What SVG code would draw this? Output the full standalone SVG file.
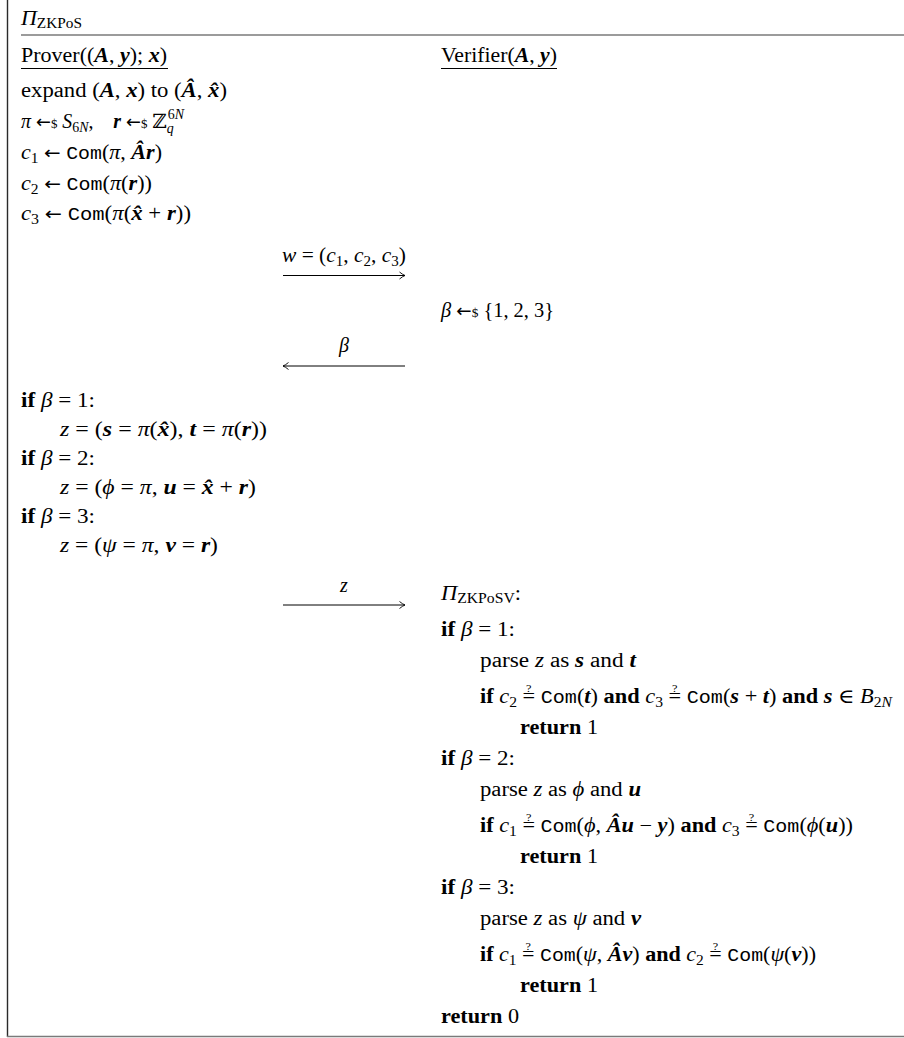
<svg xmlns="http://www.w3.org/2000/svg" width="904" height="1038" viewBox="0 0 904 1038">
<style>
text{font-family:"Liberation Serif","DejaVu Serif",serif;font-size:20px;fill:#000}
.i{font-style:italic}
.b{font-weight:bold}
.bi{font-weight:bold;font-style:italic}
.m{font-family:"Liberation Mono","DejaVu Sans Mono",monospace;font-size:18px}
.ar{font-family:"DejaVu Sans",sans-serif;font-size:18px}
.s{font-size:14px}
.d{font-size:13px}
.q{font-size:11px}
.mid{text-anchor:middle}
.frame{stroke:#2a2a2a;stroke-width:1.4;fill:none}
.rule{stroke:#7a7a7a;stroke-width:1.6;fill:none}
.ul{stroke:#000;stroke-width:1;fill:none}
.msg{stroke:#000;stroke-width:1;fill:none}
.head{stroke:#000;stroke-width:0.9;fill:none}
</style>
<defs>
<marker id="ah" markerUnits="userSpaceOnUse" markerWidth="12" markerHeight="10" refX="8" refY="5" orient="auto-start-reverse" viewBox="0 0 12 10">
<path class="head" d="M2.5 1.5 Q5.5 4 8 5 Q5.5 6 2.5 8.5"/>
</marker>
</defs>
<g id="frame">
<line class="frame" x1="7.5" y1="0" x2="7.5" y2="1037"/>
<line class="rule" x1="21" y1="35" x2="904" y2="35"/>
<line class="rule" x1="7" y1="1036.5" x2="904" y2="1036.5"/>
</g>
<g id="title">
<text x="21" y="25" textLength="61" lengthAdjust="spacingAndGlyphs"><tspan class="i">Π</tspan><tspan class="s" dy="3">ZKPoS</tspan></text>
</g>
<g id="prover">
<text x="21" y="62" textLength="146" lengthAdjust="spacingAndGlyphs">Prover((<tspan class="bi">A</tspan>, <tspan class="bi">y</tspan>); <tspan class="bi">x</tspan>)</text>
<line class="ul" x1="21" y1="68.5" x2="168" y2="68.5"/>
<text x="21" y="97" textLength="206" lengthAdjust="spacingAndGlyphs">expand (<tspan class="bi">A</tspan>, <tspan class="bi">x</tspan>) to (<tspan class="bi">Â</tspan>, <tspan class="bi">x̂</tspan>)</text>
<text x="21" y="128" textLength="163" lengthAdjust="spacingAndGlyphs"><tspan class="i">π</tspan> <tspan class="ar">←</tspan><tspan class="d">$</tspan> <tspan class="i">S</tspan><tspan class="s" dy="4">6</tspan><tspan class="s i">N</tspan><tspan dy="-4">,&#160;&#160;&#160;&#160;</tspan><tspan class="bi">r</tspan> <tspan class="ar">←</tspan><tspan class="d">$</tspan> ℤ<tspan class="s i" dy="5">q</tspan><tspan class="s" dx="-6" dy="-14">6</tspan><tspan class="s i">N</tspan></text>
<text x="21" y="159" textLength="141" lengthAdjust="spacingAndGlyphs"><tspan class="i">c</tspan><tspan class="s" dy="4">1</tspan><tspan dy="-4"> </tspan><tspan class="ar">←</tspan> <tspan class="m">Com</tspan>(<tspan class="i">π</tspan>, <tspan class="bi">Âr</tspan>)</text>
<text x="21" y="190" textLength="131" lengthAdjust="spacingAndGlyphs"><tspan class="i">c</tspan><tspan class="s" dy="4">2</tspan><tspan dy="-4"> </tspan><tspan class="ar">←</tspan> <tspan class="m">Com</tspan>(<tspan class="i">π</tspan>(<tspan class="bi">r</tspan>))</text>
<text x="21" y="220" textLength="170" lengthAdjust="spacingAndGlyphs"><tspan class="i">c</tspan><tspan class="s" dy="4">3</tspan><tspan dy="-4"> </tspan><tspan class="ar">←</tspan> <tspan class="m">Com</tspan>(<tspan class="i">π</tspan>(<tspan class="bi">x̂</tspan> + <tspan class="bi">r</tspan>))</text>
<text x="21" y="407" textLength="74" lengthAdjust="spacingAndGlyphs"><tspan class="b">if</tspan> <tspan class="i">β</tspan> = 1:</text>
<text x="60" y="436" textLength="207" lengthAdjust="spacingAndGlyphs"><tspan class="i">z</tspan> = (<tspan class="bi">s</tspan> = <tspan class="i">π</tspan>(<tspan class="bi">x̂</tspan>), <tspan class="bi">t</tspan> = <tspan class="i">π</tspan>(<tspan class="bi">r</tspan>))</text>
<text x="21" y="465" textLength="74" lengthAdjust="spacingAndGlyphs"><tspan class="b">if</tspan> <tspan class="i">β</tspan> = 2:</text>
<text x="60" y="494" textLength="196" lengthAdjust="spacingAndGlyphs"><tspan class="i">z</tspan> = (<tspan class="i">ϕ</tspan> = <tspan class="i">π</tspan>, <tspan class="bi">u</tspan> = <tspan class="bi">x̂</tspan> + <tspan class="bi">r</tspan>)</text>
<text x="21" y="523" textLength="74" lengthAdjust="spacingAndGlyphs"><tspan class="b">if</tspan> <tspan class="i">β</tspan> = 3:</text>
<text x="60" y="552" textLength="158" lengthAdjust="spacingAndGlyphs"><tspan class="i">z</tspan> = (<tspan class="i">ψ</tspan> = <tspan class="i">π</tspan>, <tspan class="bi">v</tspan> = <tspan class="bi">r</tspan>)</text>
</g>
<g id="verifier">
<text x="441" y="62" textLength="116" lengthAdjust="spacingAndGlyphs">Verifier(<tspan class="bi">A</tspan>, <tspan class="bi">y</tspan>)</text>
<line class="ul" x1="441" y1="68.5" x2="557" y2="68.5"/>
<text x="441" y="317" textLength="113" lengthAdjust="spacingAndGlyphs"><tspan class="i">β</tspan> <tspan class="ar">←</tspan><tspan class="d">$</tspan> {1, 2, 3}</text>
<text x="441" y="600" textLength="80" lengthAdjust="spacingAndGlyphs"><tspan class="i">Π</tspan><tspan class="s" dy="3">ZKPoSV</tspan><tspan dy="-3">:</tspan></text>
<text x="441" y="636" textLength="74" lengthAdjust="spacingAndGlyphs"><tspan class="b">if</tspan> <tspan class="i">β</tspan> = 1:</text>
<text x="480" y="667" textLength="156" lengthAdjust="spacingAndGlyphs">parse <tspan class="i">z</tspan> as <tspan class="bi">s</tspan> and <tspan class="bi">t</tspan></text>
<text x="480" y="703" textLength="412" lengthAdjust="spacingAndGlyphs"><tspan class="b">if</tspan> <tspan class="i">c</tspan><tspan class="s" dy="4">2</tspan><tspan dy="-4"> =</tspan><tspan class="q" dx="-8.1" dy="-11">?</tspan><tspan dx="3.2" dy="11"> </tspan><tspan class="m">Com</tspan>(<tspan class="bi">t</tspan>) <tspan class="b">and</tspan> <tspan class="i">c</tspan><tspan class="s" dy="4">3</tspan><tspan dy="-4"> =</tspan><tspan class="q" dx="-8.1" dy="-11">?</tspan><tspan dx="3.2" dy="11"> </tspan><tspan class="m">Com</tspan>(<tspan class="bi">s</tspan> + <tspan class="bi">t</tspan>) <tspan class="b">and</tspan> <tspan class="bi">s</tspan> ∈ <tspan class="i">B</tspan><tspan class="s" dy="4">2</tspan><tspan class="s i">N</tspan></text>
<text x="520" y="734" textLength="78" lengthAdjust="spacingAndGlyphs"><tspan class="b">return</tspan> 1</text>
<text x="441" y="765" textLength="74" lengthAdjust="spacingAndGlyphs"><tspan class="b">if</tspan> <tspan class="i">β</tspan> = 2:</text>
<text x="480" y="796" textLength="161" lengthAdjust="spacingAndGlyphs">parse <tspan class="i">z</tspan> as <tspan class="i">ϕ</tspan> and <tspan class="bi">u</tspan></text>
<text x="480" y="832" textLength="373" lengthAdjust="spacingAndGlyphs"><tspan class="b">if</tspan> <tspan class="i">c</tspan><tspan class="s" dy="4">1</tspan><tspan dy="-4"> =</tspan><tspan class="q" dx="-8.1" dy="-11">?</tspan><tspan dx="3.2" dy="11"> </tspan><tspan class="m">Com</tspan>(<tspan class="i">ϕ</tspan>, <tspan class="bi">Âu</tspan> − <tspan class="bi">y</tspan>) <tspan class="b">and</tspan> <tspan class="i">c</tspan><tspan class="s" dy="4">3</tspan><tspan dy="-4"> =</tspan><tspan class="q" dx="-8.1" dy="-11">?</tspan><tspan dx="3.2" dy="11"> </tspan><tspan class="m">Com</tspan>(<tspan class="i">ϕ</tspan>(<tspan class="bi">u</tspan>))</text>
<text x="520" y="863" textLength="78" lengthAdjust="spacingAndGlyphs"><tspan class="b">return</tspan> 1</text>
<text x="441" y="894" textLength="74" lengthAdjust="spacingAndGlyphs"><tspan class="b">if</tspan> <tspan class="i">β</tspan> = 3:</text>
<text x="480" y="925" textLength="161" lengthAdjust="spacingAndGlyphs">parse <tspan class="i">z</tspan> as <tspan class="i">ψ</tspan> and <tspan class="bi">v</tspan></text>
<text x="480" y="961" textLength="336" lengthAdjust="spacingAndGlyphs"><tspan class="b">if</tspan> <tspan class="i">c</tspan><tspan class="s" dy="4">1</tspan><tspan dy="-4"> =</tspan><tspan class="q" dx="-8.1" dy="-11">?</tspan><tspan dx="3.2" dy="11"> </tspan><tspan class="m">Com</tspan>(<tspan class="i">ψ</tspan>, <tspan class="bi">Âv</tspan>) <tspan class="b">and</tspan> <tspan class="i">c</tspan><tspan class="s" dy="4">2</tspan><tspan dy="-4"> =</tspan><tspan class="q" dx="-8.1" dy="-11">?</tspan><tspan dx="3.2" dy="11"> </tspan><tspan class="m">Com</tspan>(<tspan class="i">ψ</tspan>(<tspan class="bi">v</tspan>))</text>
<text x="520" y="992" textLength="78" lengthAdjust="spacingAndGlyphs"><tspan class="b">return</tspan> 1</text>
<text x="441" y="1023" textLength="78" lengthAdjust="spacingAndGlyphs"><tspan class="b">return</tspan> 0</text>
</g>
<g id="connectors">
<line class="msg" x1="283" y1="275.5" x2="405" y2="275.5" marker-end="url(#ah)"/>
<line class="msg" x1="405" y1="366" x2="283" y2="366" marker-end="url(#ah)"/>
<line class="msg" x1="283" y1="605" x2="405" y2="605" marker-end="url(#ah)"/>
<text class="mid" x="344" y="262" textLength="124" lengthAdjust="spacingAndGlyphs"><tspan class="i">w</tspan> = (<tspan class="i">c</tspan><tspan class="s" dy="4">1</tspan><tspan dy="-4">, </tspan><tspan class="i">c</tspan><tspan class="s" dy="4">2</tspan><tspan dy="-4">, </tspan><tspan class="i">c</tspan><tspan class="s" dy="4">3</tspan><tspan dy="-4">)</tspan></text>
<text class="mid i" x="344" y="352">β</text>
<text class="mid i" x="344" y="592">z</text>
</g>
</svg>
